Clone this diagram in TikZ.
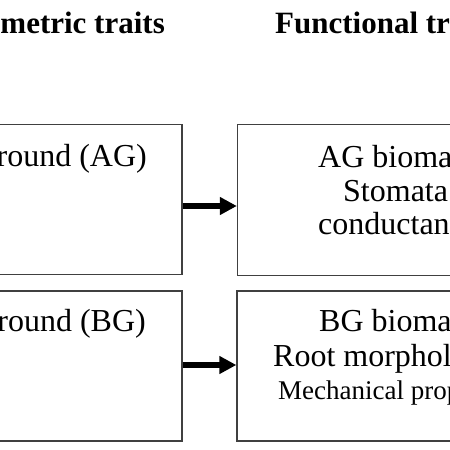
\documentclass[tikz,border=0pt]{standalone}
\usepackage{fontspec}
\setmainfont{Liberation Serif}
\usetikzlibrary{arrows.meta}
\begin{document}
\begin{tikzpicture}[x=1pt,y=-1pt,
  boxstyle/.style={draw=black!75,line width=1.3pt,rectangle,inner sep=0pt},
  head/.style={font=\fontsize{31}{31}\selectfont\bfseries,inner sep=0pt},
  body/.style={font=\fontsize{32}{32}\selectfont,inner sep=0pt},
  small/.style={font=\fontsize{27}{27}\selectfont,inner sep=0pt},
  arr/.style={line width=5.5pt,-{Triangle[length=17pt,width=17pt]}}]
\useasboundingbox (0,0) rectangle (450,450);
\clip (0,0) rectangle (450,450);
\fill[white] (0,0) rectangle (450,450);
% boxes
\node[boxstyle,minimum width=302pt,minimum height=150.5pt] (b1) at (31,199.5) {};
\node[boxstyle,minimum width=312pt,minimum height=150.5pt] (b2) at (393.5,200) {};
\node[boxstyle,minimum width=302pt,minimum height=150pt] (b3) at (31,366) {};
\node[boxstyle,minimum width=312pt,minimum height=150pt] (b4) at (393,366) {};
% headings
\node[head,anchor=base east] (h1) at (165,33) {Allometric traits};
\node[head,anchor=base west] (h2) at (275,33) {Functional traits};
% texts
\node[body,anchor=base east] (t1) at (147,166) {Aboveground (AG)};
\node[body,anchor=base east] (t3) at (146,331) {Belowground (BG)};
\node[body,anchor=base west] (t2a) at (318,167) {AG biomass};
\node[body,anchor=base west] (t2b) at (343,201) {Stomata};
\node[body,anchor=base west] (t2c) at (318,234) {conductance};
\node[body,anchor=base west] (t4a) at (319,331) {BG biomass};
\node[body,anchor=base west] (t4b) at (273,366) {Root morphology};
\node[small,anchor=base west] (t4c) at (278,399) {Mechanical properties};
% arrows
\draw[arr] (b1.east |- 0,206) -- (b2.west |- 0,206);
\draw[arr] (b3.east |- 0,365) -- (b4.west |- 0,365);
\end{tikzpicture}
\end{document}
